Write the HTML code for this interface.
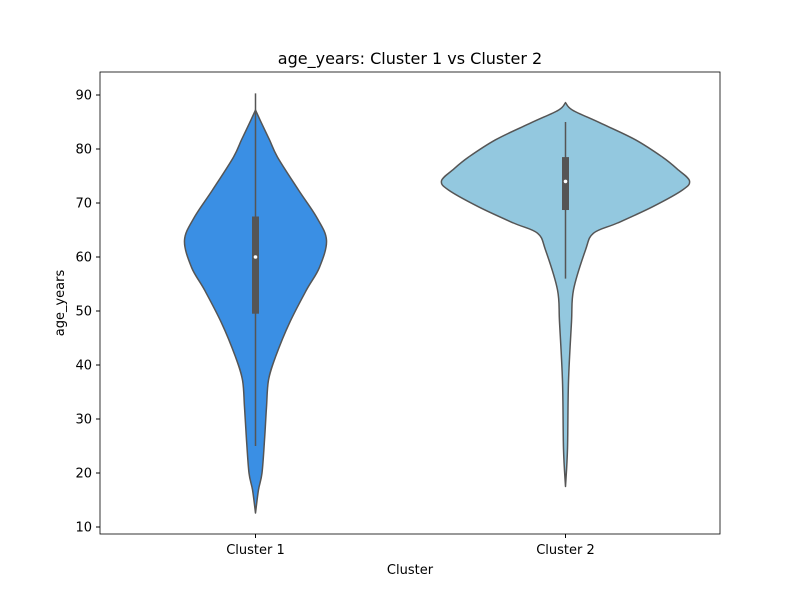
<!DOCTYPE html>
<html><head><meta charset="utf-8"><style>body{margin:0;background:#fff}svg{display:block;font-family:"DejaVu Sans","Liberation Sans",sans-serif}</style></head>
<body>
<svg width="800" height="600" xmlns="http://www.w3.org/2000/svg">
<rect width="800" height="600" fill="#fff"/>
<g id="plot"></g>
<rect x="100" y="72" width="620" height="462" fill="none" stroke="#000" stroke-width="0.8"/>
<text x="410" y="64" text-anchor="middle" font-size="16">age_years: Cluster 1 vs Cluster 2</text>
<text x="410" y="574" text-anchor="middle" font-size="13">Cluster</text>
<text transform="translate(64,303) rotate(-90)" text-anchor="middle" font-size="13">age_years</text>
<g id="axes"></g>
</svg>
<script>
const categories=["Cluster 1","Cluster 2"];
const yTicks=[10,20,30,40,50,60,70,80,90];
const c1Ages=[12.6,16.9,20,26.1,32.2,37.2,41.5,47.8,53.9,58.1,63.1,67.4,72.4,78.5,81.7,84.8,87.2];
const c1Dens=[0,3,6.5,9,11,13,20,34,51,64,71,61,43,22,14,6,0];
const c2Ages=[17.5,24.5,37,48,53.9,61.3,64.4,66.3,69.3,72.4,74.1,76.1,78.5,81.7,84.8,87.2,88.6];
const c2Dens=[0,2,3,6,8,20,28,52,87,117,124,113,97,70,35,7,0];
const q1s=[49.5,68.7];const q3s=[67.5,78.5];const medians=[60,74];
const whiskLo=[25,56];const whiskHi=[90.3,85];
const colors=["#3a8fe4","#93c8df"];
const NS="http://www.w3.org/2000/svg";
const y=v=>527-(v-10)*5.4;
const x=i=>255.5+i*310;
const plot=document.getElementById('plot'),axes=document.getElementById('axes');
function mk(t,a,p){const e=document.createElementNS(NS,t);for(const k in a)e.setAttribute(k,a[k]);p.appendChild(e);return e;}
function smooth(pts){let d="M"+pts[0][0]+","+pts[0][1];
  for(let i=0;i<pts.length-1;i++){const p0=pts[Math.max(0,i-1)],p1=pts[i],p2=pts[i+1],p3=pts[Math.min(pts.length-1,i+2)];
    d+="C"+(p1[0]+(p2[0]-p0[0])/6).toFixed(1)+","+(p1[1]+(p2[1]-p0[1])/6).toFixed(1)+" "+(p2[0]-(p3[0]-p1[0])/6).toFixed(1)+","+(p2[1]-(p3[1]-p1[1])/6).toFixed(1)+" "+p2[0].toFixed(1)+","+p2[1].toFixed(1);}
  return d;}
[[c1Ages,c1Dens],[c2Ages,c2Dens]].forEach(([ag,de],i)=>{
  const cx=x(i);let R=[],L=[];
  ag.forEach((a,j)=>R.push([cx+de[j],y(a)]));
  for(let j=ag.length-1;j>=0;j--)L.push([cx-de[j],y(ag[j])]);
  const d=smooth(R)+smooth(L).replace(/^M[^C]*/,"")+"Z";
  const v=mk('path',{d:d,fill:colors[i],stroke:"#555","stroke-width":1.5,"stroke-linejoin":"round"},plot);
  
  
  const w=mk('line',{x1:cx,x2:cx,y1:y(whiskLo[i]),y2:y(whiskHi[i]),stroke:"#555","stroke-width":1.5},plot);
  
  
  const b=mk('rect',{x:cx-3.5,y:y(q3s[i]),width:7,height:y(q1s[i])-y(q3s[i]),fill:"#555"},plot);
  
  
  const m=mk('circle',{cx:cx,cy:y(medians[i]),r:1.8,fill:"#fff"},plot);
  
  
  mk('line',{x1:cx,x2:cx,y1:534,y2:538,stroke:"#000"},axes);
  const t=mk('text',{x:cx,y:554,"text-anchor":"middle","font-size":13},axes);
  t.textContent=categories[i];
  
  
});
yTicks.forEach(v=>{
  mk('line',{x1:96,x2:100,y1:y(v),y2:y(v),stroke:"#000"},axes);
  const t=mk('text',{x:92,y:y(v)+4.5,"text-anchor":"end","font-size":13},axes);
  t.textContent=v;
  
  
});
</script>
</body></html>
